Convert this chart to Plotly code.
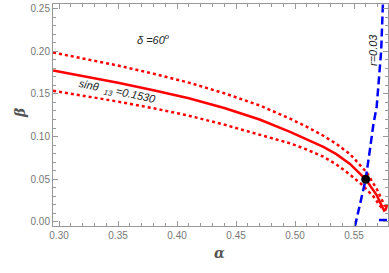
import plotly.graph_objects as go

# Solid central curve (sin theta13 = 0.1530)
alpha_c = [0.295, 0.32, 0.35, 0.38, 0.41, 0.44, 0.47, 0.4958, 0.51, 0.524, 0.535, 0.5466, 0.5599, 0.5692, 0.5743, 0.5755, 0.5768, 0.5780]
beta_c = [0.1775, 0.1712, 0.1630, 0.1543, 0.1450, 0.1335, 0.1200, 0.1055, 0.0970, 0.0880, 0.0795, 0.0680, 0.0500, 0.0316, 0.0165, 0.0135, 0.0145, 0.0200]

# Upper dotted bound
alpha_u = [0.295, 0.32, 0.35, 0.38, 0.41, 0.44, 0.47, 0.4958, 0.51, 0.524, 0.535, 0.5466, 0.5608, 0.5697, 0.5763]
beta_u = [0.1985, 0.1918, 0.1832, 0.1737, 0.1632, 0.1508, 0.1365, 0.1210, 0.1115, 0.1010, 0.0915, 0.0795, 0.0580, 0.0375, 0.0180]

# Lower dotted bound
alpha_l = [0.295, 0.32, 0.35, 0.38, 0.41, 0.44, 0.47, 0.4958, 0.51, 0.524, 0.535, 0.5466, 0.5565, 0.5664, 0.572, 0.5745]
beta_l = [0.1538, 0.1482, 0.1410, 0.1332, 0.1245, 0.1140, 0.1020, 0.0921, 0.0848, 0.0765, 0.0675, 0.0555, 0.0440, 0.0300, 0.0190, 0.0150]

# r = 0.03 contour (blue dashed)
alpha_r = [0.5508, 0.5545, 0.5575, 0.5599, 0.5636, 0.5665, 0.5692, 0.5715, 0.5730, 0.5738, 0.5745]
beta_r = [-0.005, 0.017, 0.035, 0.050, 0.086, 0.115, 0.135, 0.170, 0.200, 0.230, 0.256]
alpha_r2 = [0.5712, 0.5780]
beta_r2 = [0.0023, 0.0023]

# Intersection point
alpha_pt = [0.5599]
beta_pt = [0.050]

red = "#ff0000"
blue = "#0000ff"

fig = go.Figure()
fig.add_trace(go.Scatter(x=alpha_u, y=beta_u, mode="lines", line=dict(color=red, width=2.5, dash="dot"), hoverinfo="skip"))
fig.add_trace(go.Scatter(x=alpha_l, y=beta_l, mode="lines", line=dict(color=red, width=2.5, dash="dot"), hoverinfo="skip"))
fig.add_trace(go.Scatter(x=alpha_c, y=beta_c, mode="lines", line=dict(color=red, width=2.5), hoverinfo="skip"))
fig.add_trace(go.Scatter(x=alpha_r, y=beta_r, mode="lines", line=dict(color=blue, width=2.5, dash="8px,4px"), hoverinfo="skip"))
fig.add_trace(go.Scatter(x=alpha_r2, y=beta_r2, mode="lines", line=dict(color=blue, width=2.5), hoverinfo="skip"))
fig.add_trace(go.Scatter(x=alpha_pt, y=beta_pt, mode="markers", marker=dict(color="black", size=9), hoverinfo="skip"))

axis_common = dict(
    showgrid=False, zeroline=False, showline=True, linecolor="#999999", linewidth=1,
    mirror="allticks", ticks="inside", ticklen=5, tickcolor="#999999",
    tickfont=dict(family="Liberation Sans", size=10, color="#777777"),
    minor=dict(ticks="inside", ticklen=3, tickcolor="#999999", dtick=0.01),
    automargin=False,
)

fig.update_layout(
    width=389, height=273,
    margin=dict(l=53, r=1, t=4, b=47),
    paper_bgcolor="white", plot_bgcolor="white",
    showlegend=False,
    xaxis=dict(range=[0.2949, 0.5788], tickvals=[0.30, 0.35, 0.40, 0.45, 0.50, 0.55],
               ticktext=["0.30", "0.35", "0.40", "0.45", "0.50", "0.55"],
               **axis_common),
    yaxis=dict(range=[-0.0047, 0.2553], tickvals=[0.00, 0.05, 0.10, 0.15, 0.20, 0.25],
               ticktext=["0.00", "0.05", "0.10", "0.15", "0.20", "0.25"],
               **axis_common),
    font=dict(family="Liberation Sans"),
)

# Axis titles
fig.add_annotation(x=0.4985, y=-0.1667, xref="paper", yref="paper", showarrow=False,
                   text="<b><i>α</i></b>", font=dict(family="DejaVu Serif", size=14, color="#555555"))
fig.add_annotation(x=-0.128, y=0.509, xref="paper", yref="paper", showarrow=False, textangle=-90,
                   text="<b><i>β</i></b>", font=dict(family="DejaVu Serif", size=14, color="#555555"))

fig.add_annotation(x=0.3797, y=0.2143, xref="x", yref="y", showarrow=False,
                   text="<i>δ =60<sup>o</sup></i>", font=dict(family="Liberation Sans", size=11, color="#222222"))
fig.add_annotation(x=0.3495, y=0.1525, xref="x", yref="y", showarrow=False, textangle=12,
                   text="<i>sinθ  <sub>13</sub> =0.1530</i>", font=dict(family="Liberation Sans", size=11, color="#222222"))
fig.add_annotation(x=0.5661, y=0.2014, xref="x", yref="y", showarrow=False, textangle=-90,
                   text="<i>r=0.03</i>", font=dict(family="Liberation Sans", size=11, color="#222222"))

fig.write_html("out.html", config={"displayModeBar": False},
               post_script="document.body.style.margin='0';document.body.style.overflow='hidden';")
